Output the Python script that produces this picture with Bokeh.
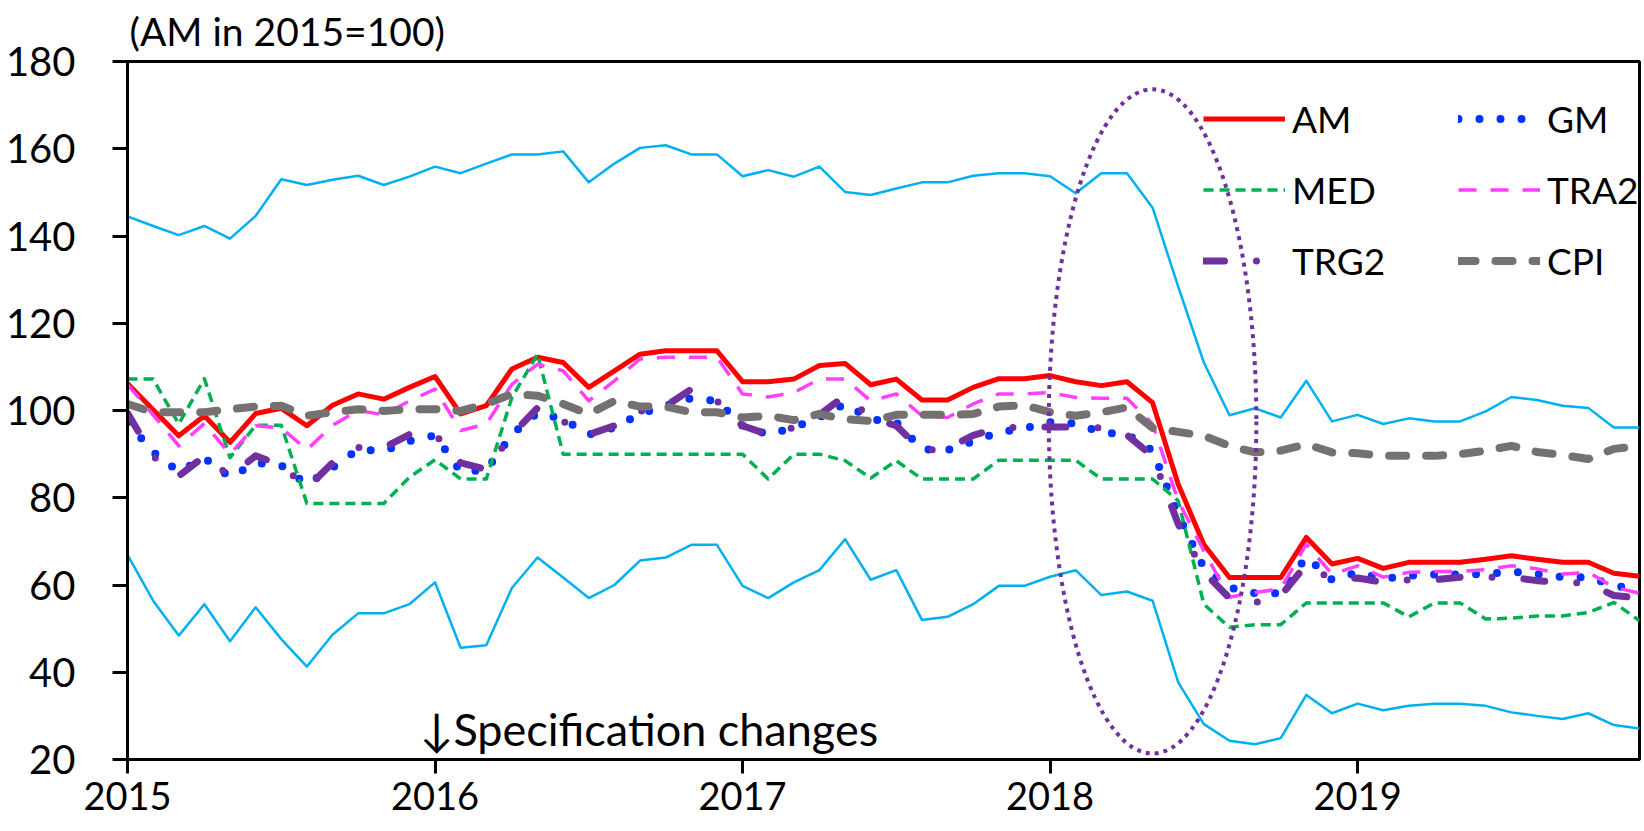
from bokeh.plotting import figure
from bokeh.models import FixedTicker, Legend, LegendItem, Label, Range1d
from bokeh.embed import file_html
from bokeh.resources import INLINE

# ---------------- data ----------------
x_tick_labels = ["2015", "2016", "2017", "2018", "2019"]
x_tick_months = [0, 12, 24, 36, 48]
y_ticks = [20, 40, 60, 80, 100, 120, 140, 160, 180]

month_index = list(range(60))  # 2015-01 ... 2019-12

am = [106.2, 100.2, 94.2, 98.8, 92.7, 99.3, 100.5, 96.5, 101.2, 103.8,
      102.6, 105.3, 107.8, 99.2, 101.1, 109.5, 112.2, 111.0, 105.3, 109.1,
      112.9, 113.7, 113.7, 113.7, 106.6, 106.6, 107.2, 110.3, 110.8, 105.9,
      107.2, 102.4, 102.4, 105.3, 107.3, 107.3, 108.0, 106.6, 105.7, 106.6,
      101.8, 83.1, 69.3, 61.7, 61.7, 61.7, 70.9, 64.8, 66.1, 63.8,
      65.2, 65.2, 65.2, 65.9, 66.7, 65.9, 65.2, 65.2, 62.7, 62.0]

gm = [97.3, 90.5, 86.0, 89.1, 84.7, 88.0, 87.4, 83.1, 86.9, 91.1,
      90.7, 93.0, 94.3, 86.0, 86.3, 94.5, 99.5, 98.0, 94.5, 96.1,
      99.2, 101.1, 102.8, 102.2, 96.5, 94.5, 96.1, 98.4, 101.5, 98.0,
      97.3, 91.1, 90.9, 92.9, 95.0, 95.9, 97.3, 97.0, 95.0, 94.5,
      90.8, 76.0, 64.0, 59.4, 58.1, 58.1, 66.5, 61.2, 62.9, 61.4,
      62.1, 62.4, 62.4, 62.5, 63.1, 62.5, 61.8, 61.8, 59.9, 58.9]

med = [107.2, 107.2, 96.9, 107.3, 89.2, 96.6, 96.6, 78.7, 78.7, 78.7,
       78.7, 84.7, 88.7, 84.3, 84.3, 103.0, 112.9, 90.0, 90.0, 90.0,
       90.0, 90.0, 90.0, 90.0, 90.0, 84.3, 90.0, 90.0, 88.5, 84.5,
       88.5, 84.3, 84.3, 84.3, 88.6, 88.6, 88.6, 88.6, 84.3, 84.3,
       84.3, 79.3, 55.6, 50.3, 50.9, 50.9, 55.9, 55.9, 55.9, 55.9,
       52.7, 55.9, 55.9, 52.2, 52.4, 52.9, 52.9, 53.7, 56.0, 51.8]

tra2 = [106.0, 99.0, 91.9, 97.0, 90.0, 96.5, 96.0, 91.0, 96.6, 100.0,
        99.0, 102.2, 104.9, 95.4, 96.9, 106.0, 110.6, 109.1, 102.2, 106.8,
        111.8, 112.2, 112.2, 112.2, 103.8, 103.1, 104.1, 107.2, 107.2, 102.2,
        103.8, 98.8, 98.4, 101.5, 103.8, 103.8, 104.1, 103.0, 102.8, 102.8,
        96.9, 79.3, 67.8, 57.2, 58.3, 59.1, 69.4, 62.5, 64.4, 61.8,
        62.9, 63.1, 63.1, 63.5, 64.4, 63.7, 62.5, 62.9, 59.5, 58.1]

trg2 = [99.4, 89.5, 85.0, 89.5, 85.0, 89.6, 87.5, 82.2, 88.0, 91.5,
        91.5, 94.5, 94.5, 88.0, 86.5, 94.5, 100.6, 97.5, 94.5, 96.5,
        99.8, 101.0, 104.9, 102.2, 96.5, 94.5, 96.1, 99.0, 103.4, 98.4,
        96.5, 90.8, 91.3, 94.3, 96.0, 96.2, 96.2, 96.2, 96.0, 94.4,
        89.5, 74.0, 63.0, 57.0, 56.0, 57.5, 64.7, 61.3, 61.6, 60.6,
        61.2, 61.2, 61.8, 61.8, 61.8, 61.0, 60.6, 60.4, 57.6, 57.0]

cpi = [101.5, 99.6, 99.6, 99.6, 100.3, 100.9, 101.1, 98.8, 99.6, 100.3,
       99.9, 100.3, 100.3, 99.9, 101.5, 103.8, 103.4, 101.5, 99.2, 102.2,
       100.9, 100.9, 99.6, 99.6, 98.4, 98.8, 97.8, 99.2, 98.0, 97.6,
       99.0, 99.0, 99.0, 99.2, 100.9, 101.2, 99.6, 98.8, 99.6, 100.7,
       96.0, 95.1, 94.2, 91.9, 90.4, 90.8, 92.3, 90.4, 90.2, 89.6,
       89.6, 89.6, 90.0, 90.8, 91.9, 90.5, 89.8, 88.9, 91.2, 91.9]

band_upper = [144.5, 142.3, 140.2, 142.3, 139.4, 144.6, 153.0, 151.7, 152.9, 153.8,
              151.7, 153.6, 155.9, 154.4, 156.6, 158.7, 158.7, 159.4, 152.3, 156.6,
              160.2, 160.8, 158.7, 158.7, 153.7, 155.1, 153.6, 155.9, 150.1, 149.4,
              150.9, 152.3, 152.3, 153.8, 154.4, 154.4, 153.7, 149.8, 154.4, 154.4,
              146.5, 128.4, 111.0, 98.9, 100.5, 98.4, 106.8, 97.5, 99.0, 96.9,
              98.2, 97.5, 97.5, 99.8, 103.1, 102.4, 101.1, 100.6, 96.1, 96.1]

band_lower = [66.9, 56.4, 48.4, 55.6, 47.1, 54.9, 47.6, 41.3, 48.6, 53.5,
              53.5, 55.6, 60.6, 45.6, 46.2, 59.3, 66.3, 61.7, 57.0, 60.0,
              65.6, 66.3, 69.2, 69.2, 59.8, 57.0, 60.6, 63.4, 70.5, 61.2,
              63.4, 52.0, 52.7, 55.6, 59.8, 59.8, 61.9, 63.4, 57.7, 58.5,
              56.4, 37.7, 28.1, 24.3, 23.5, 24.9, 34.8, 30.6, 32.8, 31.3,
              32.3, 32.8, 32.8, 32.3, 30.8, 30.0, 29.3, 30.6, 27.9, 27.1]

# annotation positions (data units)
ELLIPSE_X, ELLIPSE_Y, ELLIPSE_W, ELLIPSE_H = 40.0, 97.5, 8.1, 152.4
NOTE_X, NOTE_Y = 11.4, 27.1
NOTE_TEXT = "\u2193Specification changes"
TITLE_TEXT = "(AM in 2015=100)"

FONT = "Lato"

p = figure(width=1644, height=831, output_backend="svg", toolbar_location=None,
           x_range=Range1d(0, 59), y_range=Range1d(20, 180),
           min_border_left=127, min_border_right=5, min_border_top=61,
           min_border_bottom=72, background_fill_color="white",
           border_fill_color="white")

p.title.text = TITLE_TEXT
p.title.align = "left"
p.title.vertical_align = "top"
p.title.offset = 2
p.title.standoff = 11
p.title.text_font = FONT
p.title.text_font_size = "39px"
p.title.text_font_style = "normal"
p.title.text_color = "black"

p.xgrid.visible = False
p.ygrid.visible = False
p.outline_line_color = "black"
p.outline_line_width = 3
p.outline_line_alpha = 1

p.xaxis.ticker = FixedTicker(ticks=x_tick_months)
p.xaxis.major_label_overrides = dict(zip(x_tick_months, x_tick_labels))
p.yaxis.ticker = FixedTicker(ticks=y_ticks)
for ax in (p.xaxis, p.yaxis):
    ax.axis_line_width = 3
    ax.axis_line_color = "black"
    ax.major_tick_line_width = 3
    ax.major_tick_line_color = "black"
    ax.major_tick_in = 0
    ax.minor_tick_line_color = None
    ax.major_label_text_font = FONT
    ax.major_label_text_color = "black"
p.xaxis.major_label_text_font_size = "38px"
p.yaxis.major_label_text_font_size = "40px"
p.xaxis.major_tick_out = 14
p.xaxis.major_label_standoff = 8
p.yaxis.major_tick_out = 15
p.yaxis.major_label_standoff = 37

# bands (no legend)
p.line(month_index, band_upper, line_color="#00B0F0", line_width=2.5, line_join="round")
p.line(month_index, band_lower, line_color="#00B0F0", line_width=2.5, line_join="round")

r_am = p.line(month_index, am, line_color="#FF0000", line_width=5, line_join="round")
r_gm = p.line(month_index, gm, line_color="#0033FF", line_width=8, line_dash="0 21",
              line_cap="round", line_join="round")
r_med = p.line(month_index, med, line_color="#00B050", line_width=3.5, line_dash="10 6",
               line_join="round")
r_tra2 = p.line(month_index, tra2, line_color="#FF40FF", line_width=3.5, line_dash="18 14",
                line_join="round")
r_trg2 = p.line(month_index, trg2, line_color="#7030A0", line_width=7, line_dash="21 32 0 32",
                line_cap="round", line_join="round")
r_cpi = p.line(month_index, cpi, line_color="#767171", line_width=8, line_dash="17 20",
               line_cap="round", line_join="round")

p.ellipse(x=[ELLIPSE_X], y=[ELLIPSE_Y], width=[ELLIPSE_W], height=[ELLIPSE_H],
          fill_color=None, line_color="#7030A0", line_width=4, line_dash="4 5")

p.add_layout(Label(x=NOTE_X, y=NOTE_Y, text=NOTE_TEXT, text_font=FONT,
                   text_font_size="45px", text_baseline="alphabetic", text_color="black"))

legend = Legend(items=[
    LegendItem(label="AM", renderers=[r_am]),
    LegendItem(label="GM", renderers=[r_gm]),
    LegendItem(label="MED", renderers=[r_med]),
    LegendItem(label="TRA2", renderers=[r_tra2]),
    LegendItem(label="TRG2", renderers=[r_trg2]),
    LegendItem(label="CPI", renderers=[r_cpi]),
], orientation="horizontal", ncols=2, location=(1076, 463),
    padding=0, margin=0, spacing=0, glyph_width=82, glyph_height=71,
    label_height=71, label_width=166, label_standoff=7,
    border_line_alpha=0, background_fill_alpha=0,
    label_text_font=FONT, label_text_font_size="37px", label_text_baseline="middle",
    label_text_color="black")
p.add_layout(legend)

open("out.html", "w").write(file_html(p, INLINE))
